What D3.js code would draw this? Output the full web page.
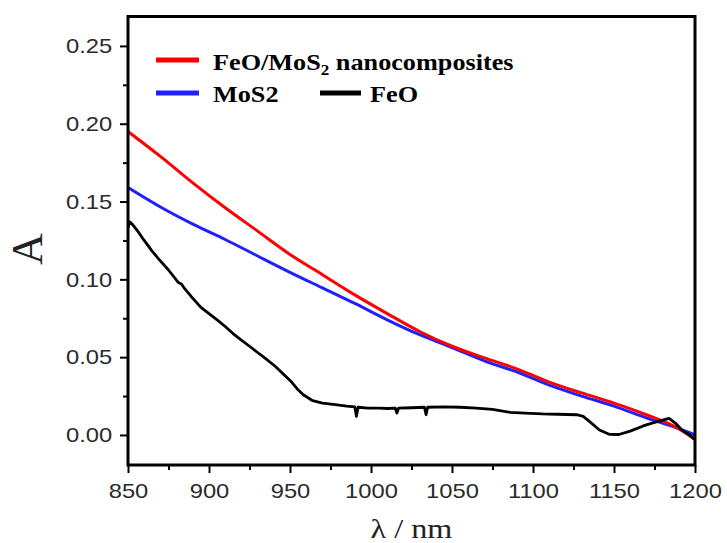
<!DOCTYPE html>
<html>
<head>
<meta charset="utf-8">
<script src="https://cdn.jsdelivr.net/npm/d3@7"></script>
<style>
  html, body { margin: 0; padding: 0; background: #fff; }
  svg { display: block; }
</style>
</head>
<body>
<svg id="chart" width="727" height="543"></svg>
<script>
// ---- data ----
const xTicks = [850, 900, 950, 1000, 1050, 1100, 1150, 1200];
const xMinorTicks = [875, 925, 975, 1025, 1075, 1125, 1175];
const yTicks = [0.00, 0.05, 0.10, 0.15, 0.20, 0.25];
const yMinorTicks = [0.025, 0.075, 0.125, 0.175, 0.225];

const seriesNames = ["FeO/MoS2 nanocomposites", "MoS2", "FeO"];
const seriesColors = ["#ff0000", "#2020ff", "#000000"];

const compositeNm = [850, 870, 890, 910, 930, 950, 970, 990, 1010, 1030, 1050, 1070, 1090, 1110, 1130, 1150, 1170, 1190, 1200];
const compositeA = [0.195, 0.179, 0.162, 0.146, 0.131, 0.116, 0.103, 0.090, 0.078, 0.0665, 0.057, 0.0495, 0.0425, 0.034, 0.027, 0.0205, 0.013, 0.004, -0.003];

const mos2Nm = [850, 870, 890, 910, 930, 950, 970, 990, 1010, 1030, 1050, 1070, 1090, 1110, 1130, 1150, 1170, 1190, 1200];
const mos2A = [0.159, 0.1465, 0.1355, 0.1256, 0.115, 0.1045, 0.0945, 0.0845, 0.074, 0.0644, 0.0562, 0.0476, 0.0405, 0.032, 0.025, 0.0185, 0.011, 0.004, 0.000];

const feoNm = [850, 851, 853, 856, 860, 865, 869, 875, 881, 883, 885, 889, 895, 900, 905, 910, 915, 920, 925, 930, 935, 941, 946, 951, 955, 958, 964, 970, 978, 985, 990, 991, 992, 998, 1005, 1010, 1015, 1016, 1017, 1025, 1033, 1034, 1035, 1045, 1055, 1065, 1075, 1086, 1095, 1106, 1115, 1127, 1131, 1135, 1141, 1147, 1153, 1160, 1168, 1174, 1180, 1184, 1188, 1192, 1196, 1200];
const feoA = [0.133, 0.137, 0.135, 0.131, 0.125, 0.118, 0.113, 0.106, 0.098, 0.097, 0.094, 0.089, 0.082, 0.078, 0.074, 0.0697, 0.065, 0.061, 0.057, 0.053, 0.049, 0.044, 0.039, 0.034, 0.029, 0.026, 0.022, 0.0205, 0.0195, 0.0185, 0.018, 0.012, 0.0178, 0.0172, 0.0172, 0.017, 0.0172, 0.014, 0.0172, 0.0175, 0.0178, 0.013, 0.0178, 0.018, 0.0178, 0.0172, 0.0165, 0.0145, 0.014, 0.0135, 0.0133, 0.013, 0.012, 0.0086, 0.0032, 0.0004, 0.0003, 0.0025, 0.0058, 0.0078, 0.0095, 0.0107, 0.0075, 0.003, 0.0005, -0.003];

// ---- layout ----
const L = 128, R = 695, T = 16.5, B = 465;
const svg = d3.select("#chart");

const x = d3.scaleLinear().domain([850, 1200]).range([L, R]);
const y = d3.scaleLinear().domain([-0.0193, 0.2689]).range([B, T]);

const SX = 1.13; // horizontal stretch of the reference

// axes
svg.append("g").attr("transform", `translate(${L},0)`)
  .call(d3.axisLeft(y).tickValues(yTicks).tickSize(8).tickPadding(6).tickFormat(d3.format(".2f")));
svg.append("g").attr("transform", `translate(${L},0)`)
  .call(d3.axisLeft(y).tickValues(yMinorTicks).tickSize(5).tickFormat(""));
svg.append("g").attr("transform", `translate(0,${B})`)
  .call(d3.axisBottom(x).tickValues(xTicks).tickSize(8).tickPadding(10).tickFormat(d3.format("d")));
svg.append("g").attr("transform", `translate(0,${B})`)
  .call(d3.axisBottom(x).tickValues(xMinorTicks).tickSize(5).tickFormat(""));

svg.selectAll(".domain").remove();
svg.selectAll(".tick line").attr("stroke", "#000").attr("stroke-width", 2);
svg.selectAll(".tick text")
  .attr("font-family", "'Liberation Sans', Arial, sans-serif")
  .attr("font-size", 21)
  .attr("fill", "#2a2a2a")
  .attr("transform", `scale(${SX},1)`);

// clip for curves
svg.append("clipPath").attr("id", "clip")
  .append("rect").attr("x", L).attr("y", T).attr("width", R - L).attr("height", B - T);

const smooth = d3.line().x(d => x(d[0])).y(d => y(d[1])).curve(d3.curveMonotoneX);
const straight = d3.line().x(d => x(d[0])).y(d => y(d[1]));
const zip = (a, b) => a.map((v, i) => [v, b[i]]);

const curves = [
  { data: zip(mos2Nm, mos2A), color: seriesColors[1], w: 3, gen: smooth },
  { data: zip(compositeNm, compositeA), color: seriesColors[0], w: 3, gen: smooth },
  { data: zip(feoNm, feoA), color: seriesColors[2], w: 2.8, gen: straight }
];
svg.append("g").attr("clip-path", "url(#clip)")
  .selectAll("path").data(curves).join("path")
  .attr("d", d => d.gen(d.data))
  .attr("fill", "none")
  .attr("stroke", d => d.color)
  .attr("stroke-width", d => d.w)
  .attr("stroke-linejoin", "round");

// frame
svg.append("rect").attr("x", L).attr("y", T).attr("width", R - L).attr("height", B - T)
  .attr("fill", "none").attr("stroke", "#000").attr("stroke-width", 3);

// legend
const legend = svg.append("g");
const legendItems = [
  { name: seriesNames[0], color: seriesColors[0], x1: 156, x2: 199, ly: 60, tx: 213, ty: 70 },
  { name: seriesNames[1], color: seriesColors[1], x1: 156, x2: 199, ly: 93, tx: 213, ty: 102 },
  { name: seriesNames[2], color: seriesColors[2], x1: 320, x2: 361, ly: 93, tx: 370, ty: 102 }
];
legendItems.forEach(it => {
  legend.append("line").attr("x1", it.x1).attr("x2", it.x2).attr("y1", it.ly).attr("y2", it.ly)
    .attr("stroke", it.color).attr("stroke-width", 5);
  const t = legend.append("g").attr("transform", `translate(${it.tx},${it.ty}) scale(1.14,1)`)
    .append("text")
    .attr("font-family", "'Liberation Serif', 'Times New Roman', serif")
    .attr("font-weight", "bold").attr("font-size", 23).attr("fill", "#000");
  if (it.name === "FeO/MoS2 nanocomposites") {
    t.append("tspan").text("FeO/MoS");
    t.append("tspan").attr("font-size", 15).attr("dy", 5).text("2");
    t.append("tspan").attr("dy", -5).text(" nanocomposites");
  } else {
    t.text(it.name);
  }
});

// axis titles
svg.append("g").attr("transform", `translate(${(L + R) / 2},538) scale(1.15,1)`)
  .append("text").attr("text-anchor", "middle")
  .attr("font-family", "'Liberation Serif', 'Times New Roman', serif")
  .attr("font-size", 28).attr("fill", "#222").text("λ / nm");

svg.append("text")
  .attr("transform", "translate(42,249) rotate(-90)")
  .attr("text-anchor", "middle")
  .attr("font-family", "'Liberation Serif', 'Times New Roman', serif")
  .attr("font-size", 44).attr("fill", "#222").text("A");
</script>
</body>
</html>
